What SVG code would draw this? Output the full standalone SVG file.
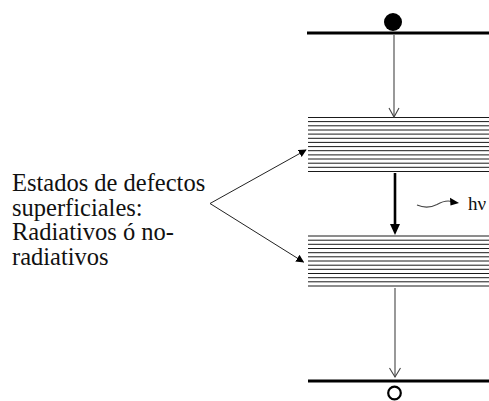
<svg xmlns="http://www.w3.org/2000/svg" width="489" height="401" viewBox="0 0 489 401">
  <style>
    .level { stroke: #000; stroke-width: 3; fill: none; }
    .band line { stroke: #1a1a1a; stroke-width: 1; }
    .thin { stroke: #444; stroke-width: 1.1; fill: none; }
  </style>
  <defs>
    <marker id="tri" viewBox="0 0 10 10" refX="9" refY="5" markerWidth="8" markerHeight="8" markerUnits="userSpaceOnUse" orient="auto">
      <path d="M0,0 L10,5 L0,10 Z" fill="#000"/>
    </marker>
  </defs>
  <rect width="489" height="401" fill="#fff"/>

  <!-- conduction level with electron -->
  <g id="upper-level">
    <line class="level" x1="307" y1="33" x2="489" y2="33"/>
    <circle cx="393" cy="22" r="9" fill="#000"/>
  </g>

  <!-- surface defect states, upper band -->
  <g id="defect-band-upper" class="band">
    <line x1="308" y1="117.5" x2="489" y2="117.5"/>
    <line x1="308" y1="121.6" x2="489" y2="121.6"/>
    <line x1="308" y1="125.8" x2="489" y2="125.8"/>
    <line x1="308" y1="130" x2="489" y2="130"/>
    <line x1="308" y1="134.1" x2="489" y2="134.1"/>
    <line x1="308" y1="138.3" x2="489" y2="138.3"/>
    <line x1="308" y1="142.4" x2="489" y2="142.4"/>
    <line x1="308" y1="146.6" x2="489" y2="146.6"/>
    <line x1="308" y1="150.7" x2="489" y2="150.7"/>
    <line x1="308" y1="154.9" x2="489" y2="154.9"/>
    <line x1="308" y1="159" x2="489" y2="159"/>
    <line x1="308" y1="163.2" x2="489" y2="163.2"/>
    <line x1="308" y1="167.3" x2="489" y2="167.3"/>
    <line x1="308" y1="171.5" x2="489" y2="171.5"/>
  </g>

  <!-- surface defect states, lower band -->
  <g id="defect-band-lower" class="band">
    <line x1="308" y1="236" x2="489" y2="236"/>
    <line x1="308" y1="240.2" x2="489" y2="240.2"/>
    <line x1="308" y1="244.3" x2="489" y2="244.3"/>
    <line x1="308" y1="248.5" x2="489" y2="248.5"/>
    <line x1="308" y1="252.7" x2="489" y2="252.7"/>
    <line x1="308" y1="256.8" x2="489" y2="256.8"/>
    <line x1="308" y1="261" x2="489" y2="261"/>
    <line x1="308" y1="265.2" x2="489" y2="265.2"/>
    <line x1="308" y1="269.3" x2="489" y2="269.3"/>
    <line x1="308" y1="273.5" x2="489" y2="273.5"/>
    <line x1="308" y1="277.7" x2="489" y2="277.7"/>
    <line x1="308" y1="281.8" x2="489" y2="281.8"/>
    <line x1="308" y1="286" x2="489" y2="286"/>
  </g>

  <!-- valence level with hole -->
  <g id="lower-level">
    <line class="level" x1="308" y1="381" x2="489" y2="381"/>
    <circle cx="394.5" cy="393" r="6.3" fill="none" stroke="#000" stroke-width="2.2"/>
  </g>

  <!-- label for the defect states -->
  <g id="defect-label" font-family="'Liberation Serif', 'Times New Roman', serif" font-size="24.5" fill="#111">
    <text x="12" y="191">Estados de defectos</text>
    <text x="12" y="215.5">superficiales:</text>
    <text x="12" y="240">Radiativos ó no-</text>
    <text x="12" y="264.5">radiativos</text>
  </g>

  <!-- emitted photon -->
  <g id="photon">
    <path class="thin" d="M417,205 C424,208 431,207.5 437,204.5 C443,201 447,200 452,201.5"/>
    <path d="M450,197.8 L459,203 L450.5,205.5 Z" fill="#000"/>
    <text x="468" y="210" font-family="'Liberation Serif', 'Times New Roman', serif" font-size="19" fill="#111">hν</text>
  </g>

  <g id="connectors">
    <!-- relaxation into upper band -->
    <line class="thin" x1="394" y1="35" x2="394" y2="117"/>
    <polyline class="thin" points="389,108 394,117 399,108"/>
    <!-- radiative transition between bands -->
    <line x1="395" y1="173" x2="395" y2="226" stroke="#000" stroke-width="2.6"/>
    <path d="M390,224 L400,224 L395,235 Z" fill="#000"/>
    <!-- relaxation from lower band to valence level -->
    <line class="thin" x1="395" y1="288" x2="395" y2="377"/>
    <polyline class="thin" points="389.5,368 395,377 400.5,368"/>
    <!-- pointers from label to the bands -->
    <line x1="210" y1="203.5" x2="306" y2="150" stroke="#222" stroke-width="1" marker-end="url(#tri)"/>
    <line x1="210" y1="203.5" x2="303.5" y2="262" stroke="#222" stroke-width="1" marker-end="url(#tri)"/>
  </g>
</svg>
